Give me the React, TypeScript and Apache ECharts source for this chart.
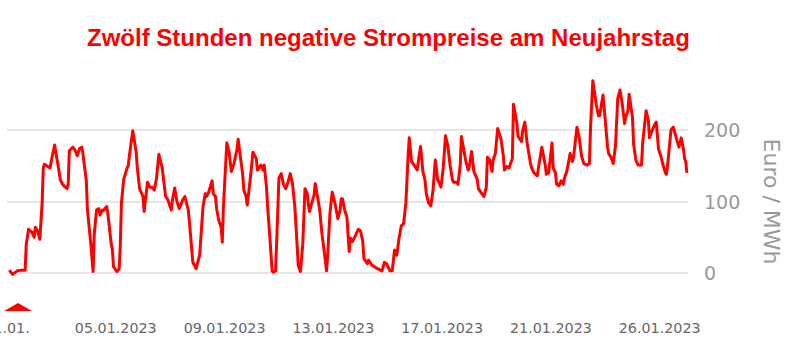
import React, { useEffect, useRef } from "react";
import * as echarts from "echarts";

// Hours since 01.01.2023 00:00 and day-ahead prices (Euro / MWh)
const hoursA = [2,5,9,13,16,17,19,22,24,25,27,29,31,32,33,36,38,40,42,45,47,49,53,54,55,58,60,62,64,66,67,70,71,74,76,77,79,81,82,84,85,88,89,92,93,94,97,99,100,101,103,106,107,108,111,114,115,117,120,121,122,124,126,128,130,132,134,137,138,140,142,145,146,148,150,152,154,155,157,160];
const pricesA = [4,-2,3,4,4,40,61,57,50,64,59,47,98,147,152,149,147,164,179,151,131,124,118,124,171,176,172,164,174,176,167,129,88,40,2,54,88,90,81,88,87,93,83,40,33,9,2,6,40,98,131,147,150,164,199,169,147,118,107,86,100,127,120,120,116,133,166,147,133,107,102,88,102,119,100,90,98,102,107,88];

const hoursB = [161,164,167,168,170,173,175,176,178,181,182,184,185,187,189,190,191,194,196,198,200,203,204,206,208,209,211,212,214,216,217,220,221,224,226,227,229,230,232,234,235,237,238,240,242,244,246,248,250,252,254,256,257,259,261,263,265,266,267,269,271,272,274,276,278,280,282,283,285,287,288,290,292,294,295,296,298,300,302,303,305,308,310,312,314,315,318,319,322,325,327,331,333,335,338,340,342,344,346];
const pricesB = [71,15,6,13,25,93,111,107,113,129,111,107,90,73,64,43,93,182,169,142,151,173,187,162,138,116,107,95,122,151,169,160,144,151,144,151,120,93,49,3,1,3,44,133,139,124,118,127,139,124,93,40,11,2,40,118,111,95,86,98,109,125,107,88,54,30,3,25,83,113,107,93,76,88,104,104,88,78,30,49,44,54,61,59,44,20,13,18,11,8,6,3,15,13,3,3,32,25,49];

const hoursC = [348,350,352,354,355,357,360,362,363,365,367,369,370,372,374,376,378,380,383,385,387,389,391,393,394,397,398,400,401,403,405,407,408,410,412,415,416,419,421,423,424,426,428,429,431,433,436,438,439,441,443,446,447,450,451,454,455,457,459,462,463,465,468,469,472];
const pricesC = [66,69,98,164,189,156,149,144,156,177,142,129,111,98,94,116,158,131,120,147,192,178,151,131,127,127,124,151,191,173,156,144,149,170,142,131,118,111,107,120,162,158,142,158,167,202,187,164,144,149,147,160,236,209,191,184,198,211,182,153,147,140,136,147,176];

const hoursD = [475,476,478,481,482,484,485,487,489,491,492,494,497,499,500,503,505,507,509,512,514,515,517,520,522,523,526,528,530,531,533,535,537,539,541,543,545,546,548,549,552,553,555,557,559,560,561,564,566,567,569,572,573,575,577,579,581,582,583,586,588,590,591,593,595,597,598,599,600];
const pricesD = [151,138,140,182,147,140,124,122,129,124,133,142,167,156,162,204,189,164,153,151,153,204,269,236,220,220,249,213,176,167,162,153,178,244,256,236,209,218,227,250,218,180,158,151,151,151,182,227,213,189,198,209,211,173,164,151,140,138,151,200,204,193,187,176,189,173,160,156,140];

const xTickLabels = ["01.01.", "05.01.2023", "09.01.2023", "13.01.2023", "17.01.2023", "21.01.2023", "26.01.2023"];
const yTicks = [0, 100, 200];

const titleText = "Zwölf Stunden negative Strompreise am Neujahrstag";
const yAxisName = "Euro / MWh";

export default function App() {
  const ref = useRef<HTMLDivElement>(null);

  useEffect(() => {
    document.body.style.margin = "0";
    if (!ref.current) return;
    const chart = echarts.init(ref.current, undefined, { renderer: "svg" });

    const hours = [...hoursA, ...hoursB, ...hoursC, ...hoursD];
    const prices = [...pricesA, ...pricesB, ...pricesC, ...pricesD];
    const data = hours.map((h, i) => [h, prices[i]]);

    chart.setOption({
      animation: false,
      backgroundColor: "#ffffff",
      title: {
        text: titleText,
        left: 82,
        top: 20,
        textStyle: {
          color: "#ff0000",
          fontFamily: "Liberation Sans",
          fontWeight: "bold",
          fontSize: 24,
        },
      },
      grid: {
        left: 7,
        right: 111,
        top: 130,
        bottom: 88,
        containLabel: false,
        outerBoundsMode: "none",
      },
      xAxis: {
        type: "value",
        min: 0,
        max: 601,
        interval: 96,
        axisLine: { show: false },
        axisTick: { show: false },
        splitLine: { show: false },
        axisLabel: {
          margin: 48,
          color: "#666",
          fontFamily: "DejaVu Sans",
          fontSize: 14.3,
          showMaxLabel: false,
          formatter: (v: number) => {
            const i = Math.round(v / 96);
            return Math.abs(v - i * 96) < 0.01 && xTickLabels[i] ? xTickLabels[i] : "";
          },
        },
      },
      yAxis: {
        type: "value",
        position: "right",
        min: yTicks[0],
        max: yTicks[yTicks.length - 1],
        interval: 100,
        name: yAxisName,
        nameLocation: "middle",
        nameRotate: -90,
        nameGap: 72,
        nameTextStyle: {
          color: "#999",
          fontFamily: "DejaVu Sans",
          fontSize: 22,
        },
        axisLine: { show: false },
        axisTick: { show: false },
        splitLine: { show: true, lineStyle: { color: "#e6e6e6", width: 2 } },
        axisLabel: {
          margin: 16,
          color: "#999",
          fontFamily: "DejaVu Sans",
          fontSize: 19,
        },
      },
      series: [
        {
          type: "line",
          data,
          showSymbol: false,
          clip: false,
          lineStyle: { color: "#ff0000", width: 3, join: "round" },
          itemStyle: { color: "#ff0000" },
        },
      ],
      graphic: [
        {
          type: "polygon",
          shape: { points: [[4, 311], [18, 303], [32, 311]] },
          style: { fill: "#ff0000" },
        },
      ],
    });

    return () => chart.dispose();
  }, []);

  return <div ref={ref} style={{ width: 799, height: 361 }} />;
}
